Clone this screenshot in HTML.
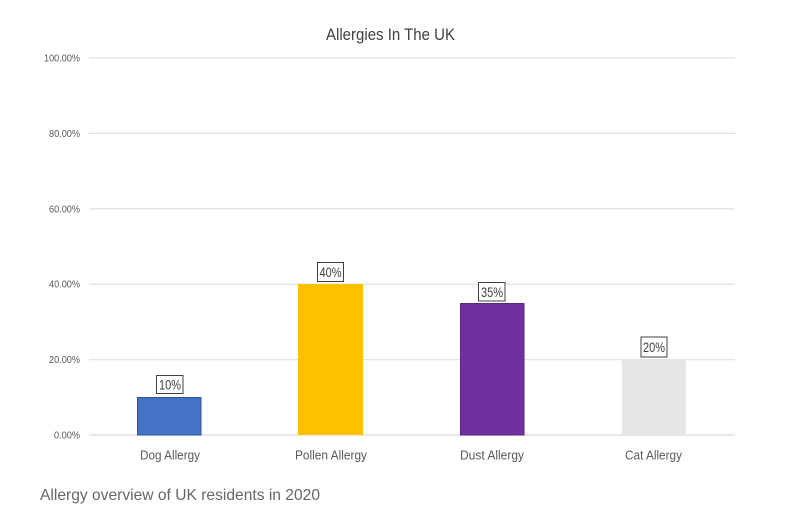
<!DOCTYPE html>
<html><head><meta charset="utf-8"><style>
html,body{margin:0;padding:0;background:#fff;}
svg{display:block;}
text{font-family:"Liberation Sans",sans-serif;}
</style></head><body>
<svg width="809" height="523" viewBox="0 0 809 523" xmlns="http://www.w3.org/2000/svg">
<rect width="809" height="523" fill="#fff"/>
<text x="390.5" y="40" font-size="17" fill="#404040" text-anchor="middle" textLength="129" lengthAdjust="spacingAndGlyphs">Allergies In The UK</text>
<g stroke="#e3e3e3" stroke-width="1.3">
<line x1="89" y1="58" x2="735" y2="58"/>
<line x1="89" y1="133.4" x2="735" y2="133.4"/>
<line x1="89" y1="208.8" x2="735" y2="208.8"/>
<line x1="89" y1="284.2" x2="735" y2="284.2"/>
<line x1="89" y1="359.6" x2="735" y2="359.6"/>
<line x1="89" y1="435" x2="735" y2="435" stroke="#d9d9d9"/>
</g>
<g font-size="10" fill="#595959" text-anchor="end">
<text x="80" y="61.5" textLength="36" lengthAdjust="spacingAndGlyphs">100.00%</text>
<text x="80" y="137" textLength="31" lengthAdjust="spacingAndGlyphs">80.00%</text>
<text x="80" y="212.3" textLength="31" lengthAdjust="spacingAndGlyphs">60.00%</text>
<text x="80" y="287.7" textLength="31" lengthAdjust="spacingAndGlyphs">40.00%</text>
<text x="80" y="363.1" textLength="31" lengthAdjust="spacingAndGlyphs">20.00%</text>
<text x="80" y="438.5" textLength="26" lengthAdjust="spacingAndGlyphs">0.00%</text>
</g>
<rect x="137.5" y="397.5" width="63.5" height="37.5" fill="#4472c4" stroke="#2f5597" stroke-width="1"/>
<rect x="298" y="284" width="65" height="151" fill="#ffc000"/>
<rect x="460.5" y="303.5" width="63.5" height="131.5" fill="#7030a0" stroke="#5b2585" stroke-width="1"/>
<rect x="622" y="360" width="64" height="75" fill="#e7e6e6"/>
<g fill="#fff" stroke="#404040" stroke-width="1">
<rect x="156.5" y="375.5" width="26.5" height="18"/>
<rect x="317.5" y="262.5" width="26" height="19"/>
<rect x="478.5" y="282.5" width="26.5" height="18.5"/>
<rect x="641" y="337" width="26" height="20"/>
</g>
<g font-size="14" fill="#404040" text-anchor="middle">
<text x="170" y="389.5" textLength="22" lengthAdjust="spacingAndGlyphs">10%</text>
<text x="330.5" y="277" textLength="22" lengthAdjust="spacingAndGlyphs">40%</text>
<text x="492" y="297" textLength="22" lengthAdjust="spacingAndGlyphs">35%</text>
<text x="654" y="352" textLength="22" lengthAdjust="spacingAndGlyphs">20%</text>
</g>
<g font-size="13" fill="#595959" text-anchor="middle">
<text x="170" y="459.5" textLength="60" lengthAdjust="spacingAndGlyphs">Dog Allergy</text>
<text x="331" y="459.5" textLength="72" lengthAdjust="spacingAndGlyphs">Pollen Allergy</text>
<text x="492" y="459.5" textLength="64" lengthAdjust="spacingAndGlyphs">Dust Allergy</text>
<text x="653.5" y="459.5" textLength="57" lengthAdjust="spacingAndGlyphs">Cat Allergy</text>
</g>
<text x="40" y="500" font-size="16" fill="#666" textLength="280" lengthAdjust="spacingAndGlyphs">Allergy overview of UK residents in 2020</text>
</svg>
</body></html>
